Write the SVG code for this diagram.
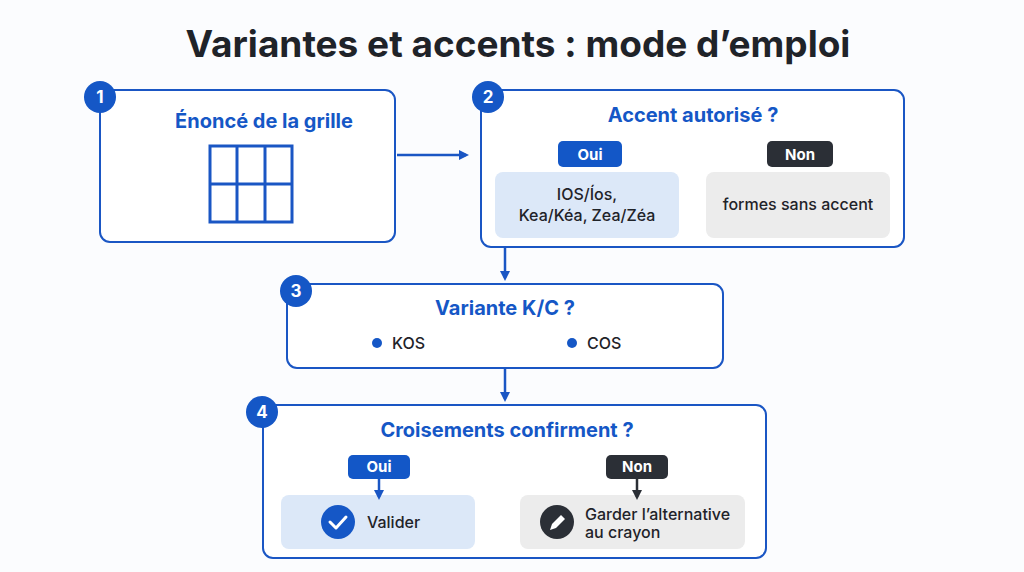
<svg xmlns="http://www.w3.org/2000/svg" width="1024" height="572" viewBox="0 0 1024 572">
<style>
text{font-family:Inter,"Liberation Sans",sans-serif}
.box{fill:#fff;stroke:#1a56c4;stroke-width:2}
.ttl{fill:#1557c6;font-weight:700;font-size:20px;text-anchor:middle}
.badge{fill:#1557c6}
.bn{fill:#fff;font-weight:700;font-size:17px;text-anchor:middle}
.tag{fill:#fff;font-weight:700;font-size:15px;text-anchor:middle}
.txt{fill:#1f2329;font-size:16px;font-weight:500}
.con{stroke:#1a56c4;stroke-width:2.5;fill:none}
</style>
<defs>
<marker id="ab" markerWidth="10" markerHeight="10" refX="7" refY="5" orient="auto" markerUnits="userSpaceOnUse"><path d="M0,0L10,5L0,10z" fill="#1a56c4"/></marker>
<marker id="ad" markerWidth="10" markerHeight="10" refX="7" refY="5" orient="auto" markerUnits="userSpaceOnUse"><path d="M0,0L10,5L0,10z" fill="#2b2f36"/></marker>
</defs>
<rect width="1024" height="572" fill="#fbfcfe"/>
<text x="518" y="57" text-anchor="middle" font-size="37" font-weight="700" fill="#1f2329">Variantes et accents : mode d’emploi</text>
<g id="n1">
<rect class="box" x="100" y="90" width="295" height="152" rx="10"/>
<circle class="badge" cx="100" cy="97" r="16"/><text class="bn" x="100" y="103">1</text>
<text class="ttl" x="264" y="128">Énoncé de la grille</text>
<g stroke="#1a56c4" stroke-width="3" fill="none"><rect x="210" y="146" width="82" height="76"/><line x1="237" y1="146" x2="237" y2="222"/><line x1="265" y1="146" x2="265" y2="222"/><line x1="210" y1="184" x2="292" y2="184"/></g>
</g>
<g id="n2">
<rect class="box" x="481" y="90" width="423" height="157" rx="10"/>
<circle class="badge" cx="488" cy="97" r="16"/><text class="bn" x="488" y="103">2</text>
<text class="ttl" x="693" y="122">Accent autorisé ?</text>
<rect x="558" y="141" width="64" height="26" rx="5" fill="#1357c7"/><text class="tag" x="590" y="160">Oui</text>
<rect x="767" y="141" width="66" height="26" rx="5" fill="#2b2f36"/><text class="tag" x="800" y="160">Non</text>
<rect x="495" y="172" width="184" height="66" rx="8" fill="#dce8f8"/>
<text class="txt" x="587" y="200" text-anchor="middle">IOS/Íos,</text>
<text class="txt" x="587" y="221" text-anchor="middle">Kea/Kéa, Zea/Zéa</text>
<rect x="706" y="172" width="184" height="66" rx="8" fill="#ececec"/>
<text class="txt" x="798" y="210" text-anchor="middle">formes sans accent</text>
</g>
<g id="n3">
<rect class="box" x="287" y="284" width="436" height="84" rx="10"/>
<circle class="badge" cx="296" cy="291" r="16"/><text class="bn" x="296" y="297">3</text>
<text class="ttl" x="505" y="315">Variante K/C ?</text>
<circle cx="377" cy="343" r="5" fill="#1557c6"/><text class="txt" x="392" y="349">KOS</text>
<circle cx="572" cy="343" r="5" fill="#1557c6"/><text class="txt" x="587" y="349">COS</text>
</g>
<g id="n4">
<rect class="box" x="263" y="405" width="503" height="153" rx="10"/>
<circle class="badge" cx="262" cy="412" r="16"/><text class="bn" x="262" y="418">4</text>
<text class="ttl" x="507" y="437">Croisements confirment ?</text>
<rect x="348" y="455" width="62" height="24" rx="5" fill="#1357c7"/><text class="tag" x="379" y="472">Oui</text>
<rect x="606" y="455" width="62" height="24" rx="5" fill="#2b2f36"/><text class="tag" x="637" y="472">Non</text>
<rect x="281" y="495" width="194" height="54" rx="8" fill="#dce8f8"/>
<circle cx="338" cy="522" r="17" fill="#1557c6"/>
<path d="M330,522l6,6l10,-11" stroke="#fff" stroke-width="3" fill="none" stroke-linecap="round" stroke-linejoin="round"/>
<text class="txt" x="367" y="528">Valider</text>
<rect x="520" y="495" width="225" height="54" rx="8" fill="#ececec"/>
<circle cx="557" cy="522" r="17" fill="#2b2f36"/>
<path d="M550,530l2,-6l9,-9l4,4l-9,9z" fill="#fff"/>
<text class="txt" x="585" y="520">Garder l’alternative</text>
<text class="txt" x="585" y="538">au crayon</text>
</g>
<g id="connectors">
<line class="con" x1="397" y1="155" x2="466" y2="155" marker-end="url(#ab)"/>
<line class="con" x1="505" y1="248" x2="505" y2="278" marker-end="url(#ab)"/>
<line class="con" x1="505" y1="369" x2="505" y2="399" marker-end="url(#ab)"/>
<line class="con" x1="379" y1="479" x2="379" y2="497" marker-end="url(#ab)"/>
<line stroke="#2b2f36" stroke-width="2.5" x1="637" y1="479" x2="637" y2="497" marker-end="url(#ad)"/>
</g>
</svg>
